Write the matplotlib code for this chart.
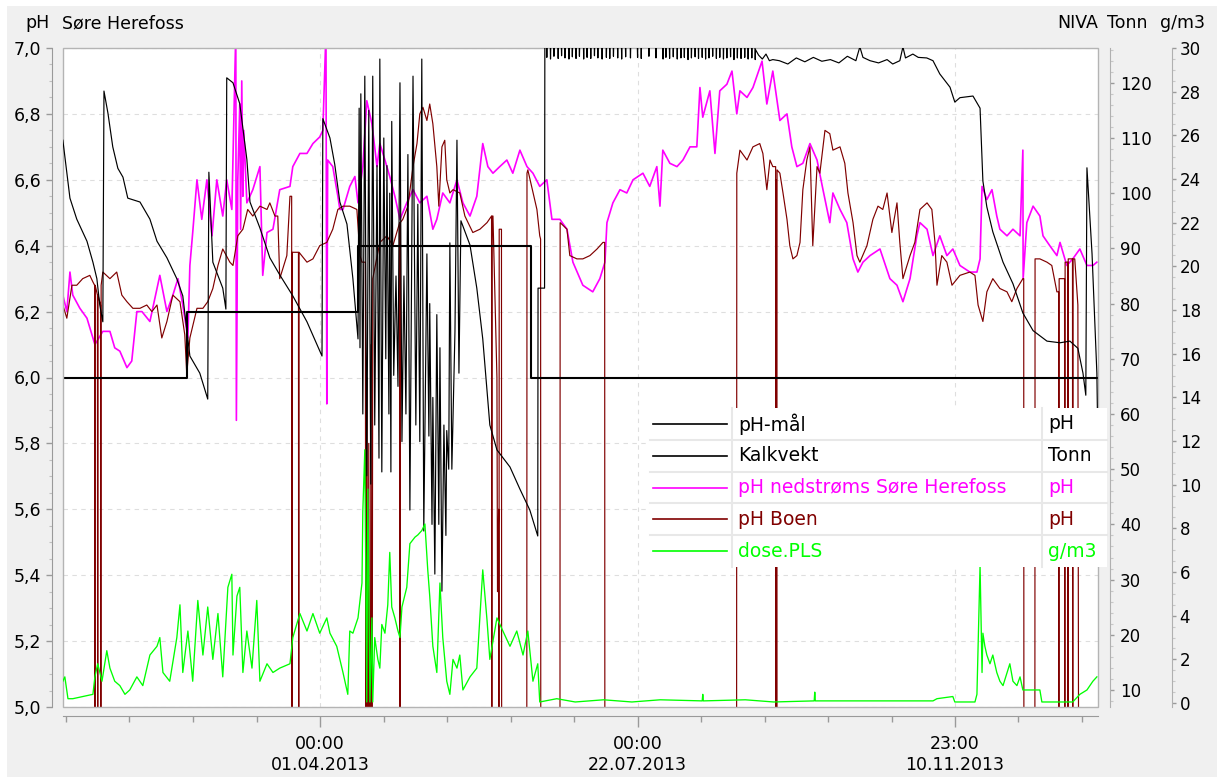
import numpy as np
import matplotlib
matplotlib.use('Agg')
import matplotlib.pyplot as plt
from matplotlib.patches import Rectangle
from matplotlib.lines import Line2D
from matplotlib.ticker import FixedLocator, FuncFormatter, MultipleLocator
import matplotlib.dates as mdates

# ---------------- data (day offsets from 2013-01-01 00:00) ----------------
ph_maal = [(-0.65, 6.0), (43.0, 6.2), (103.4, 6.4), (164.4, 6.0), (364.4, 6.0)]

kalkvekt = [
    (-0.7, 109.6), (1.8, 99.1), (4.2, 95.3), (7.8, 91.3), (9.9, 87.5), (11.3, 84.5), (12.3, 79.8), (13.4, 76.7),
    (13.8, 118.5), (15.2, 114.5), (16.9, 108.4), (18.7, 104.5), (20.5, 102.9), (22.2, 99.1), (26.5, 98.4),
    (30.0, 95.3), (32.5, 91.3), (36.0, 88.3), (39.5, 84.5), (41.6, 81.4), (44.1, 70.5), (47.6, 67.4), (50.4, 62.7),
    (50.8, 103.8), (52.2, 87.5), (55.7, 82.8), (56.8, 79.0), (57.1, 120.9), (59.3, 120.0), (61.7, 116.2),
    (64.2, 106.1), (65.3, 98.4), (68.8, 93.7), (72.3, 88.3), (75.8, 85.2), (80.4, 81.4), (85.4, 76.7), (90.7, 70.5),
    (91.0, 113.5), (93.5, 110.0), (95.2, 105.2), (97.0, 98.4), (99.5, 94.4), (101.6, 84.5), (103.4, 73.6),
    (103.8, 115.4), (104.1, 72.0), (104.4, 118.0), (105.1, 60.0), (105.8, 121.2), (106.5, 48.8), (107.2, 115.0),
    (107.9, 47.3), (108.6, 121.2), (109.3, 58.0), (110.1, 105.0), (110.8, 52.0), (111.1, 124.3), (111.8, 49.5),
    (112.5, 110.0), (113.2, 70.0), (113.6, 105.0), (114.3, 60.0), (114.6, 100.0), (115.0, 49.5), (115.3, 113.0),
    (116.0, 67.0), (116.8, 85.0), (117.5, 65.0), (118.2, 120.0), (118.9, 55.0), (119.6, 85.0), (120.3, 60.0),
    (121.0, 107.0), (121.7, 42.6), (122.8, 121.2), (123.8, 58.0), (124.5, 98.0), (125.2, 55.0), (125.9, 124.3),
    (126.6, 38.8), (127.7, 89.0), (128.4, 56.0), (128.7, 80.0), (129.5, 40.0), (129.8, 63.0), (130.5, 31.0),
    (131.2, 78.0), (131.9, 40.0), (132.3, 72.0), (133.0, 27.9), (133.7, 58.0), (134.4, 38.0), (134.7, 57.0),
    (135.4, 50.0), (135.8, 91.0), (136.5, 50.0), (137.6, 75.0), (138.3, 109.6), (139.0, 67.4), (139.7, 95.0),
    (142.9, 90.6), (145.3, 82.8), (147.4, 73.6), (149.9, 58.0), (152.4, 53.5), (157.0, 50.4), (160.5, 46.4),
    (164.0, 42.6), (166.8, 37.9), (166.9, 82.8), (169.2, 82.8), (169.3, 127.0),
    (169.9, 127.0), (170.0, 124.6), (170.1, 127.0), (171.2, 127.0), (171.3, 124.3), (171.4, 127.0),
    (172.4, 127.0), (172.5, 124.8), (172.6, 127.0), (173.9, 127.0), (174.0, 124.4), (174.1, 127.0),
    (175.1, 127.0), (175.2, 124.9), (175.3, 127.0), (176.3, 127.0), (176.4, 124.5), (176.5, 127.0),
    (177.7, 127.0), (177.8, 124.3), (177.9, 127.0), (178.9, 127.0), (179.0, 124.7), (179.1, 127.0),
    (180.2, 127.0), (180.3, 124.4), (180.4, 127.0), (181.4, 127.0), (181.5, 124.8), (181.6, 127.0),
    (182.9, 127.0), (183.0, 124.3), (183.1, 127.0), (184.1, 127.0), (184.2, 124.6), (184.3, 127.0),
    (185.4, 127.0), (185.5, 124.4), (185.6, 127.0), (186.7, 127.0), (186.8, 124.9), (186.9, 127.0),
    (187.9, 127.0), (188.0, 124.5), (188.1, 127.0), (189.4, 127.0), (189.5, 124.3), (189.6, 127.0),
    (190.9, 127.0), (191.0, 124.6), (191.1, 127.0), (192.1, 127.0), (192.2, 124.4), (192.3, 127.0),
    (193.4, 127.0), (193.5, 124.8), (193.6, 127.0), (194.9, 127.0), (195.0, 124.5), (195.1, 127.0),
    (196.3, 127.0), (196.4, 124.3), (196.5, 127.0), (197.7, 127.0), (197.8, 124.7), (197.9, 127.0),
    (199.4, 127.0), (199.5, 124.5), (199.6, 127.0), (201.9, 127.0), (202.0, 124.6), (202.1, 127.0),
    (203.2, 127.0), (203.3, 124.4), (203.4, 127.0), (205.9, 127.0), (206.0, 124.8), (206.1, 127.0),
    (208.4, 127.0), (208.5, 124.5), (208.6, 127.0), (210.9, 127.0), (211.0, 124.3), (211.1, 127.0),
    (211.9, 127.0), (212.0, 124.6), (212.1, 127.0), (213.2, 127.0), (213.3, 124.4), (213.4, 127.0),
    (214.5, 127.0), (214.6, 124.7), (214.7, 127.0), (215.9, 127.0), (216.0, 124.3), (216.1, 127.0),
    (217.2, 127.0), (217.3, 124.5), (217.4, 127.0), (218.4, 127.0), (218.5, 124.6), (218.6, 127.0),
    (219.7, 127.0), (219.8, 124.2), (219.9, 127.0), (220.9, 127.0), (221.0, 124.5), (221.1, 127.0),
    (222.2, 127.0), (222.3, 124.7), (222.4, 127.0), (223.4, 127.0), (223.5, 124.4), (223.6, 127.0),
    (224.7, 127.0), (224.8, 124.6), (224.9, 127.0), (225.9, 127.0), (226.0, 124.3), (226.1, 127.0),
    (227.1, 127.0), (227.2, 124.5), (227.3, 127.0), (228.4, 127.0), (228.5, 124.8), (228.6, 127.0),
    (229.7, 127.0), (229.8, 124.4), (229.9, 127.0), (230.9, 127.0), (231.0, 124.6), (231.1, 127.0),
    (232.2, 127.0), (232.3, 124.3), (232.4, 127.0), (233.4, 127.0), (233.5, 124.5), (233.6, 127.0),
    (234.7, 127.0), (234.8, 124.7), (234.9, 127.0), (235.9, 127.0), (236.0, 124.2), (236.1, 127.0),
    (237.1, 127.0), (237.2, 124.5), (237.3, 127.0), (238.4, 127.0), (238.5, 124.4), (238.6, 127.0),
    (239.7, 127.0), (239.8, 124.6), (239.9, 127.0), (240.9, 127.0), (241.0, 124.3), (241.1, 127.0),
    (242.2, 127.0), (242.3, 124.5), (242.4, 127.0), (243.4, 127.0), (243.5, 124.2), (243.6, 126.0),
    (244.7, 125.0), (246.0, 124.3), (247.3, 125.2), (248.5, 124.0), (249.7, 124.2),
    (252.0, 124.0), (255.0, 123.4), (258.0, 124.5), (261.0, 123.8), (264.0, 124.6),
    (267.0, 123.9), (270.0, 124.2), (273.0, 123.6), (276.0, 124.8), (279.0, 124.0), (280.4, 126.5), (281.5, 124.6),
    (284.0, 124.0), (287.0, 123.6), (290.0, 124.2), (292.0, 123.4), (294.5, 124.0), (295.6, 126.5), (296.5, 124.5),
    (299.1, 125.2), (301.0, 124.6), (304.0, 124.5), (306.2, 124.0), (308.6, 121.6), (312.2, 119.2), (313.9, 116.5),
    (315.7, 117.3), (320.3, 117.6), (322.8, 115.4), (323.8, 102.2), (325.2, 97.5), (327.3, 93.0), (330.9, 87.5),
    (334.4, 83.6), (337.9, 78.3), (341.5, 75.1), (346.4, 73.2), (351.0, 72.9), (354.5, 73.2), (357.3, 71.9),
    (359.1, 67.4), (360.1, 63.4), (360.5, 104.6), (362.3, 89.0), (364.0, 67.4), (364.2, 60.0),
]

ph_nedstroms = [
    (-0.7, 6.25), (0.7, 6.20), (1.8, 6.32), (2.8, 6.25), (5.3, 6.21), (7.8, 6.18), (10.6, 6.10), (13.4, 6.14),
    (15.9, 6.14), (17.6, 6.09), (19.4, 6.08), (21.9, 6.03), (23.6, 6.05), (25.4, 6.20), (27.2, 6.20), (30.0, 6.17),
    (33.5, 6.31), (36.0, 6.20), (38.1, 6.25), (39.9, 6.30), (41.6, 6.22), (43.4, 6.12), (44.1, 6.34), (45.1, 6.44),
    (46.6, 6.60), (48.3, 6.48), (50.1, 6.60), (51.9, 6.43), (53.6, 6.60), (55.7, 6.49), (57.1, 6.60), (58.9, 6.51),
    (60.3, 7.05), (60.5, 5.87), (61.0, 6.60), (61.7, 6.83), (62.0, 6.45), (62.4, 6.90), (62.8, 6.55), (63.1, 6.75),
    (64.2, 6.53), (66.3, 6.57), (68.8, 6.64), (69.8, 6.31), (71.3, 6.44), (73.4, 6.45), (75.8, 6.57), (79.4, 6.58),
    (80.4, 6.64), (82.9, 6.68), (85.4, 6.68), (87.5, 6.71), (89.9, 6.73), (91.0, 6.75), (92.1, 7.05), (92.4, 5.92),
    (92.7, 6.66), (94.5, 6.64), (96.3, 6.55), (97.0, 6.51), (98.1, 6.51), (100.5, 6.58), (102.3, 6.61), (103.4, 6.53),
    (105.1, 6.64), (106.5, 6.84), (108.3, 6.77), (110.1, 6.64), (111.1, 6.71), (112.9, 6.66), (114.6, 6.61),
    (116.4, 6.55), (118.2, 6.48), (120.6, 6.53), (122.8, 6.57), (125.2, 6.53), (127.7, 6.55), (129.8, 6.45),
    (131.2, 6.48), (133.3, 6.56), (135.8, 6.53), (138.3, 6.60), (140.4, 6.53), (142.9, 6.49), (145.3, 6.55),
    (147.4, 6.71), (149.2, 6.64), (151.0, 6.62), (153.4, 6.64), (155.9, 6.66), (158.0, 6.62), (160.5, 6.69),
    (163.0, 6.64), (165.1, 6.62), (167.5, 6.58), (170.0, 6.60), (171.8, 6.48), (174.6, 6.48), (177.1, 6.45),
    (179.2, 6.35), (182.7, 6.28), (186.2, 6.26), (188.7, 6.30), (190.5, 6.35), (191.2, 6.47), (193.3, 6.53),
    (195.8, 6.57), (198.2, 6.56), (200.4, 6.60), (203.9, 6.62), (206.3, 6.58), (208.8, 6.64), (209.9, 6.52),
    (210.9, 6.69), (213.4, 6.65), (215.9, 6.64), (218.0, 6.66), (220.5, 6.70), (222.9, 6.70), (224.0, 6.88),
    (225.0, 6.79), (227.5, 6.87), (229.3, 6.68), (231.0, 6.87), (233.5, 6.89), (235.3, 6.93), (237.0, 6.80),
    (238.1, 6.87), (240.6, 6.85), (242.7, 6.88), (245.9, 6.96), (247.6, 6.83), (249.7, 6.93), (252.2, 6.78),
    (254.7, 6.80), (256.4, 6.70), (258.2, 6.64), (260.3, 6.65), (262.8, 6.71), (265.3, 6.66), (267.4, 6.57),
    (269.8, 6.47), (270.9, 6.56), (273.4, 6.51), (275.8, 6.47), (278.0, 6.36), (279.7, 6.32), (281.5, 6.35),
    (284.0, 6.37), (287.5, 6.39), (291.0, 6.30), (293.5, 6.28), (295.6, 6.23), (298.1, 6.30), (300.5, 6.43),
    (301.6, 6.47), (304.1, 6.45), (306.2, 6.37), (308.6, 6.43), (311.1, 6.37), (313.2, 6.39), (315.7, 6.34),
    (319.2, 6.32), (321.7, 6.32), (322.8, 6.36), (323.5, 6.58), (325.2, 6.54), (327.0, 6.57), (328.7, 6.49),
    (329.8, 6.45), (332.3, 6.43), (334.4, 6.45), (336.9, 6.43), (337.9, 6.69), (338.0, 6.30), (339.3, 6.47),
    (341.5, 6.52), (343.9, 6.49), (345.0, 6.43), (347.4, 6.40), (349.9, 6.37), (351.0, 6.41), (353.4, 6.34),
    (355.5, 6.36), (358.0, 6.39), (360.5, 6.34), (362.6, 6.34), (364.0, 6.35),
]

ph_boen = [
    (-0.7, 6.22), (0.7, 6.18), (2.5, 6.28), (4.2, 6.28), (6.3, 6.30), (8.8, 6.31), (9.9, 6.29),
    (10.5, 6.28), (10.6, 4.0), (10.7, 6.28), (11.5, 6.25), (11.6, 4.0), (11.7, 6.25), (12.6, 6.22), (12.7, 4.0),
    (12.8, 6.28), (13.4, 6.32), (15.9, 6.30), (18.3, 6.32), (20.1, 6.25), (21.9, 6.23), (24.0, 6.21), (26.5, 6.21),
    (28.9, 6.22), (30.7, 6.20), (32.5, 6.22), (34.2, 6.12), (36.0, 6.17), (38.1, 6.25), (40.6, 6.23), (42.3, 6.13),
    (43.0, 6.01), (44.1, 6.12), (46.6, 6.21), (48.7, 6.21), (50.4, 6.23), (52.2, 6.27), (54.0, 6.34), (55.7, 6.39),
    (58.2, 6.35), (59.3, 6.34), (61.0, 6.43), (62.8, 6.45), (64.5, 6.51), (66.3, 6.49), (68.8, 6.52), (71.3, 6.51),
    (72.3, 6.53), (74.1, 6.49), (75.1, 6.49), (75.8, 6.30), (78.3, 6.37), (79.4, 6.55), (80.0, 6.55), (80.1, 4.0),
    (80.2, 6.38), (82.4, 6.38), (82.5, 4.0), (82.6, 6.38), (85.4, 6.35), (87.5, 6.36), (89.9, 6.40), (92.4, 6.41),
    (94.5, 6.45), (96.3, 6.51), (98.1, 6.52), (100.5, 6.52), (103.0, 6.51), (104.1, 6.37), (104.8, 6.35),
    (106.0, 6.35), (106.2, 4.0), (106.5, 6.0), (106.8, 4.0), (107.2, 5.8), (107.6, 4.0), (108.0, 6.1), (108.3, 4.0),
    (108.6, 6.3), (111.1, 6.41), (113.6, 6.43), (115.7, 6.40), (118.1, 6.47), (118.2, 4.0), (118.3, 6.47),
    (119.2, 6.48), (121.0, 6.52), (122.8, 6.64), (124.2, 6.71), (125.2, 6.80), (126.3, 6.82), (127.7, 6.78),
    (128.7, 6.83), (129.8, 6.77), (131.2, 6.64), (131.9, 6.52), (133.0, 6.70), (134.0, 6.72), (134.7, 6.60),
    (135.8, 6.56), (136.9, 6.57), (139.3, 6.56), (141.1, 6.49), (143.9, 6.44), (146.4, 6.45), (148.9, 6.47),
    (150.5, 6.49), (150.6, 4.0), (150.7, 6.49), (151.0, 6.49), (152.4, 6.0), (152.6, 5.35), (153.0, 5.6),
    (153.1, 4.0), (153.2, 6.45), (154.0, 6.45), (154.1, 4.0), (162.9, 4.0), (163.0, 6.62), (163.3, 6.63),
    (166.5, 6.51), (167.5, 6.43), (167.8, 6.42), (167.9, 4.0), (174.6, 4.0), (174.7, 6.47), (177.1, 6.45),
    (178.1, 6.37), (180.6, 6.36), (182.7, 6.36), (185.2, 6.37), (187.7, 6.39), (189.8, 6.41), (190.4, 6.41),
    (190.5, 4.0), (236.9, 4.0), (237.0, 6.62), (238.1, 6.69), (240.6, 6.66), (242.7, 6.70), (245.1, 6.71),
    (246.2, 6.68), (247.6, 6.57), (248.7, 6.66), (249.7, 6.64), (250.7, 6.64), (250.8, 4.0), (250.9, 6.60),
    (251.1, 4.0), (251.2, 6.63), (252.2, 6.62), (253.3, 6.56), (254.7, 6.48), (255.7, 6.40), (256.8, 6.36),
    (258.2, 6.37), (259.3, 6.41), (260.3, 6.57), (261.7, 6.66), (262.8, 6.70), (263.8, 6.40), (265.3, 6.64),
    (266.3, 6.62), (268.1, 6.75), (269.8, 6.74), (270.9, 6.69), (273.4, 6.70), (275.1, 6.65), (276.2, 6.56),
    (278.0, 6.47), (279.4, 6.37), (280.4, 6.35), (282.9, 6.40), (285.0, 6.48), (286.8, 6.52), (288.5, 6.51),
    (290.0, 6.56), (291.7, 6.44), (293.5, 6.53), (294.5, 6.41), (295.6, 6.30), (298.1, 6.37), (299.8, 6.41),
    (301.6, 6.51), (304.1, 6.53), (305.8, 6.51), (306.9, 6.41), (307.6, 6.28), (309.3, 6.37), (311.1, 6.35),
    (312.9, 6.28), (315.7, 6.31), (319.2, 6.32), (321.0, 6.31), (322.1, 6.22), (323.8, 6.17), (325.2, 6.26),
    (327.3, 6.30), (329.8, 6.27), (332.3, 6.26), (334.0, 6.23), (335.8, 6.27), (337.9, 6.30), (338.2, 6.30),
    (338.3, 4.0), (342.1, 4.0), (342.2, 6.36), (343.9, 6.36), (346.4, 6.35), (348.1, 6.34), (349.9, 6.26),
    (350.5, 6.26), (350.6, 4.0), (350.7, 6.30), (352.0, 6.30), (352.6, 6.30), (352.7, 4.0), (352.8, 6.35),
    (353.7, 6.35), (353.8, 4.0), (353.9, 6.36), (355.4, 6.36), (355.5, 4.0), (355.6, 6.36), (356.2, 6.36),
    (357.3, 6.22), (357.7, 4.0),
]

dose_pls = [
    (-0.7, 1.0), (0.0, 1.2), (1.1, 0.2), (2.8, 0.2), (9.9, 0.4), (10.6, 1.2), (11.6, 1.8), (13.1, 1.0), (14.8, 2.4),
    (15.9, 1.6), (17.6, 1.0), (19.4, 0.8), (21.2, 0.4), (22.9, 0.6), (25.4, 1.2), (27.5, 0.8), (30.0, 2.2),
    (32.5, 2.6), (33.5, 3.0), (34.6, 1.4), (37.0, 1.0), (39.5, 3.0), (40.6, 4.5), (41.6, 1.4), (43.4, 3.3),
    (45.1, 1.0), (46.9, 4.7), (48.7, 2.2), (50.4, 4.4), (52.2, 2.0), (54.0, 4.1), (55.7, 1.2), (57.5, 5.3),
    (58.9, 5.9), (59.3, 2.2), (60.7, 4.9), (61.7, 5.3), (62.8, 1.4), (64.2, 3.3), (66.0, 1.6), (67.7, 4.7),
    (68.8, 1.0), (71.3, 1.8), (73.4, 1.4), (75.8, 1.6), (79.4, 1.8), (80.4, 3.0), (82.9, 4.1), (85.4, 3.3),
    (87.5, 4.1), (89.9, 3.2), (92.4, 3.9), (93.5, 3.2), (95.9, 2.6), (98.1, 1.4), (99.8, 0.4), (100.5, 3.3),
    (101.6, 3.2), (103.4, 3.9), (104.8, 5.5), (105.1, 8.8), (105.8, 11.6), (106.5, 0.05), (106.9, 9.8),
    (107.6, 0.05), (108.3, 3.9), (108.6, 0.05), (109.3, 3.0), (110.4, 2.0), (111.1, 1.6), (111.8, 3.6),
    (112.9, 3.2), (113.9, 4.5), (114.6, 6.9), (115.3, 4.4), (116.4, 3.9), (117.5, 3.3), (118.2, 3.0),
    (118.9, 4.4), (120.6, 5.3), (121.7, 7.3), (123.5, 7.6), (124.5, 7.7), (125.9, 7.9), (127.0, 8.2),
    (128.0, 6.1), (128.7, 4.9), (129.8, 2.6), (131.2, 1.4), (132.3, 5.5), (133.3, 3.0), (134.7, 1.0),
    (135.8, 0.4), (136.9, 2.0), (138.3, 1.6), (139.3, 2.2), (140.4, 0.6), (142.9, 1.2), (145.3, 1.6),
    (147.4, 6.1), (148.9, 3.8), (149.9, 2.0), (152.4, 3.9), (154.5, 3.3), (157.0, 2.6), (159.4, 3.3),
    (161.6, 2.2), (163.3, 3.3), (165.1, 1.0), (166.8, 1.8), (167.5, 0.05), (173.5, 0.2), (180.0, 0.05),
    (190.0, 0.15), (200.0, 0.05), (210.0, 0.15), (224.8, 0.1), (225.0, 0.4), (225.2, 0.1), (240.0, 0.15),
    (250.0, 0.05), (264.3, 0.1), (264.5, 0.5), (264.7, 0.1), (280.0, 0.1), (300.0, 0.1), (306.2, 0.1),
    (307.6, 0.2), (313.2, 0.3), (313.9, 0.05), (321.0, 0.05), (321.7, 0.4), (322.8, 6.3), (323.5, 1.4),
    (323.8, 3.2), (324.5, 2.6), (325.2, 2.2), (326.3, 1.8), (327.3, 2.2), (328.7, 1.4), (329.8, 1.0),
    (330.9, 0.8), (333.3, 1.8), (334.4, 1.0), (335.8, 0.8), (336.9, 1.2), (337.9, 0.6), (343.9, 0.6),
    (344.6, 0.05), (355.5, 0.05), (358.0, 0.4), (360.5, 0.6), (362.6, 1.0), (364.0, 1.2),
]

x_major_days = [90.0, 202.0, 313.958]
x_tick_labels = ['00:00\n01.04.2013', '00:00\n22.07.2013', '23:00\n10.11.2013']

legend_names = ['pH-mål', 'Kalkvekt', 'pH nedstrøms Søre Herefoss', 'pH Boen', 'dose.PLS']
legend_units = ['pH', 'Tonn', 'pH', 'pH', 'g/m3']
legend_colors = ['#000000', '#000000', '#ff00ff', '#800000', '#00ff00']

# ---------------- helpers ----------------
W, H = 1225, 780
BASE = np.datetime64('2013-01-01T00:00:00')


def to_dt(days):
    secs = np.round(np.asarray(days, dtype=float) * 86400).astype('int64')
    return BASE + secs.astype('timedelta64[s]')


def split(series):
    arr = np.array(series, dtype=float)
    return to_dt(arr[:, 0]), arr[:, 1]


def fx(x):
    return x / W


def fy(y):
    return 1 - y / H


plt.rcParams['font.family'] = ['DejaVu Sans']
GRAY = '#9a9a9a'

fig = plt.figure(figsize=(W / 100, H / 100), dpi=100, facecolor='white')
fig.add_artist(Rectangle((fx(7), fy(777)), (1217 - 7) / W, (777 - 6) / H, transform=fig.transFigure,
                         facecolor='#f0f0f0', edgecolor='none', zorder=-10))

ax = fig.add_axes([fx(63), fy(707), (1098 - 63) / W, (707 - 48) / H])
ax.set_facecolor('white')
ax2 = ax.twinx()
ax3 = ax.twinx()

# series
d, v = split(ph_nedstroms)
ax.plot(d, v, color='#ff00ff', lw=1.2, zorder=2)
d, v = split(ph_boen)
ax.plot(d, v, color='#800000', lw=0.85, zorder=3)
d, v = split(ph_maal)
ax.plot(d, v, color='#000000', lw=1.5, drawstyle='steps-post', zorder=4)
d, v = split(kalkvekt)
ax2.plot(d, v, color='#000000', lw=0.85)
d, v = split(dose_pls)
ax3.plot(d, v, color='#00ff00', lw=0.95)

xlo, xhi = to_dt([-0.65, 364.4])
ax.set_xlim(xlo, xhi)
ax.set_ylim(5.0, 7.0)
ax2.set_ylim(6.92, 126.3)
ax3.set_ylim(-0.18, 30.0)

# x axis
maj = mdates.date2num(to_dt(x_major_days))
step1 = (x_major_days[1] - x_major_days[0]) / 5
step2 = (x_major_days[2] - x_major_days[1]) / 5
minor_days = [x_major_days[0] - k * step1 for k in range(1, 5)] + \
             [x_major_days[0] + k * step1 for k in range(1, 5)] + \
             [x_major_days[1] + k * step2 for k in range(1, 5)] + \
             [x_major_days[2] + k * step2 for k in range(1, 3)]
ax.set_xticks(maj)
ax.set_xticklabels(x_tick_labels)
ax.xaxis.set_minor_locator(FixedLocator(mdates.date2num(to_dt(minor_days))))
for lab in ax.get_xticklabels():
    lab.set_linespacing(1.6)
ax.tick_params(axis='x', which='major', length=8, width=1, color=GRAY, labelsize=12.5, pad=6)
ax.tick_params(axis='x', which='minor', length=4, width=1, color=GRAY)

# left pH axis
ax.set_yticks(np.arange(5.0, 7.001, 0.2))
ax.yaxis.set_minor_locator(MultipleLocator(0.05))
ax.yaxis.set_major_formatter(FuncFormatter(lambda val, pos: f'{val:.1f}'.replace('.', ',')))
ax.tick_params(axis='y', which='major', length=4, width=1, color=GRAY, labelsize=12.5, pad=3.5)
ax.tick_params(axis='y', which='minor', length=2.5, width=0.8, color='#c0c0c0')

for s in ['top', 'right']:
    ax.spines[s].set_visible(False)
ax.spines['left'].set_position(('outward', 8))
ax.spines['bottom'].set_position(('outward', 6.5))
ax.spines['left'].set_color(GRAY)
ax.spines['bottom'].set_color(GRAY)

ax.grid(True, which='major', axis='both', linestyle=(0, (4, 4)), color='#dedede', lw=0.8)
ax.set_axisbelow(True)
ax.add_patch(Rectangle((0, 0), 1, 1, transform=ax.transAxes, fill=False, edgecolor='#b4b4b4',
                       lw=1.0, clip_on=False, zorder=6))

# right axes
for a, off, lo, hi, step, mstep, pad in [(ax2, 8.6, 10, 120, 10, 2, 4.3), (ax3, 53.3, 0, 30, 2, 0.5, 2.5)]:
    for s in ['top', 'left', 'bottom']:
        a.spines[s].set_visible(False)
    a.spines['right'].set_position(('outward', off))
    a.spines['right'].set_color('#b0b0b0')
    a.set_yticks(np.arange(lo, hi + 0.001, step))
    a.yaxis.set_minor_locator(MultipleLocator(mstep))
    a.yaxis.set_major_formatter(FuncFormatter(lambda val, pos: f'{val:.0f}'))
    a.tick_params(axis='y', which='major', length=3, width=1, color=GRAY, labelsize=12, pad=pad)
    a.tick_params(axis='y', which='minor', length=2, width=0.8, color='#c8c8c8')

# header texts
fig.text(fx(25), fy(23), 'pH', fontsize=12.5, va='center', ha='left')
fig.text(fx(62), fy(23), 'Søre Herefoss', fontsize=12.5, va='center', ha='left')
fig.text(fx(1098), fy(23), 'NIVA', fontsize=12.5, va='center', ha='right')
fig.text(fx(1107), fy(23), 'Tonn', fontsize=12.5, va='center', ha='left')
fig.text(fx(1160), fy(23), 'g/m3', fontsize=12.5, va='center', ha='left')

# legend table
L, R, T, B = 650, 1107, 408, 567
fig.add_artist(Rectangle((fx(L), fy(B)), (R - L) / W, (B - T) / H, transform=fig.transFigure,
                         facecolor='white', edgecolor='none', zorder=20))
row_h = (B - T) / 5
for i in range(1, 5):
    yy = T + i * row_h
    fig.add_artist(Line2D([fx(L), fx(R)], [fy(yy), fy(yy)], transform=fig.transFigure,
                          color='#e8e8e8', lw=1.5, zorder=21))
for xx in [732, 1042]:
    fig.add_artist(Line2D([fx(xx), fx(xx)], [fy(T), fy(B)], transform=fig.transFigure,
                          color='#e8e8e8', lw=1.5, zorder=21))
for i, (name, unit, col) in enumerate(zip(legend_names, legend_units, legend_colors)):
    yc = T + (i + 0.5) * row_h
    fig.add_artist(Line2D([fx(653), fx(727)], [fy(yc), fy(yc)], transform=fig.transFigure,
                          color=col, lw=1.2, zorder=22))
    fig.text(fx(738), fy(yc), name, color=col, fontsize=13.5, va='center', ha='left', zorder=23)
    fig.text(fx(1048), fy(yc), unit, color=col, fontsize=13.5, va='center', ha='left', zorder=23)

fig.savefig('out.png', dpi=100, facecolor='white')
